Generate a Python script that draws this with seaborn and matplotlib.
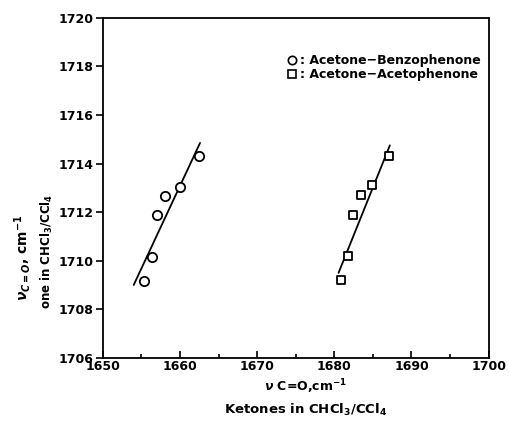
import matplotlib
matplotlib.use("Agg")
import matplotlib.pyplot as plt
import seaborn as sns
import pandas as pd
from matplotlib.ticker import MultipleLocator
from matplotlib.lines import Line2D

# Data
bz_x = [1655.3, 1656.4, 1657.0, 1658.1, 1660.0, 1662.4]
bz_y = [1709.15, 1710.15, 1711.9, 1712.65, 1713.05, 1714.3]
ac_x = [1680.9, 1681.8, 1682.4, 1683.5, 1684.9, 1687.1]
ac_y = [1709.2, 1710.2, 1711.9, 1712.7, 1713.1, 1714.3]
bz_fit_x = [1654.0, 1662.6]
bz_fit_y = [1709.0, 1714.85]
ac_fit_x = [1680.55, 1687.2]
ac_fit_y = [1709.5, 1714.75]
series_names = ["Acetone\u2212Benzophenone", "Acetone\u2212Acetophenone"]
x_ticks = [1650, 1660, 1670, 1680, 1690, 1700]
y_ticks = [1706, 1708, 1710, 1712, 1714, 1716, 1718, 1720]

sns.set_theme(style="white")
plt.rcParams['font.family'] = ['DejaVu Sans']
plt.rcParams['font.weight'] = 'bold'
plt.rcParams['text.color'] = 'black'
plt.rcParams['xtick.color'] = 'black'
plt.rcParams['ytick.color'] = 'black'
plt.rcParams['axes.labelcolor'] = 'black'

fig = plt.figure(figsize=(5.09, 4.26), dpi=100)
ax = fig.add_axes([0.202, 0.160, 0.758, 0.798])

df_bz = pd.DataFrame({"x": bz_x, "y": bz_y})
df_ac = pd.DataFrame({"x": ac_x, "y": ac_y})
df_bzf = pd.DataFrame({"x": bz_fit_x, "y": bz_fit_y})
df_acf = pd.DataFrame({"x": ac_fit_x, "y": ac_fit_y})

sns.lineplot(data=df_bzf, x="x", y="y", ax=ax, color="black", lw=1.3)
sns.lineplot(data=df_acf, x="x", y="y", ax=ax, color="black", lw=1.3)
sns.scatterplot(data=df_bz, x="x", y="y", ax=ax, marker="o", s=45,
                facecolor="white", edgecolor="black", linewidth=1.3, zorder=3)
sns.scatterplot(data=df_ac, x="x", y="y", ax=ax, marker="s", s=36,
                facecolor="white", edgecolor="black", linewidth=1.3, zorder=3)

ax.set_xlim(1650, 1700)
ax.set_ylim(1706, 1720)
ax.set_xticks(x_ticks)
ax.set_yticks(y_ticks)
ax.xaxis.set_minor_locator(MultipleLocator(5))
ax.tick_params(axis="x", which="both", direction="in", bottom=True, length=5,
               width=1.2, labelsize=9, pad=1.5, colors="black")
ax.tick_params(axis="x", which="minor", length=3)
ax.tick_params(axis="y", direction="out", left=True, length=5, width=1.2,
               labelsize=9, pad=2, colors="black")
for lab in ax.get_xticklabels() + ax.get_yticklabels():
    lab.set_fontweight("bold")
for sp in ax.spines.values():
    sp.set_color("black")
    sp.set_linewidth(1.3)

ax.set_xlabel("")
ax.set_ylabel("")
fig.text(0.60, 0.093, r"$\nu$ C=O,cm$^{-1}$", ha="center", va="center",
         fontsize=9, fontweight="bold", color="black")
fig.text(0.60, 0.037, r"Ketones in CHCl$_3$/CCl$_4$", ha="center", va="center",
         fontsize=9.5, fontweight="bold", color="black")
fig.text(0.045, 0.395, r"$\nu_{C=O}$, cm$^{-1}$", ha="center", va="center",
         rotation=90, fontsize=10, fontweight="bold", color="black")
fig.text(0.093, 0.41, r"one in CHCl$_3$/CCl$_4$", ha="center", va="center",
         rotation=90, fontsize=8.5, fontweight="bold", color="black")

handles = [Line2D([], [], marker="o", ls="none", mfc="white", mec="black", mew=1.2, ms=6),
           Line2D([], [], marker="s", ls="none", mfc="white", mec="black", mew=1.2, ms=5.5)]
leg = ax.legend(handles, [": " + n for n in series_names], loc="upper right",
                bbox_to_anchor=(1.0, 0.915), frameon=False, handletextpad=0.2,
                handlelength=1.0, labelspacing=0.05, borderaxespad=0.2,
                prop={"size": 9, "weight": "bold"})
for t in leg.get_texts():
    t.set_color("black")

fig.savefig("out.png", dpi=100)
